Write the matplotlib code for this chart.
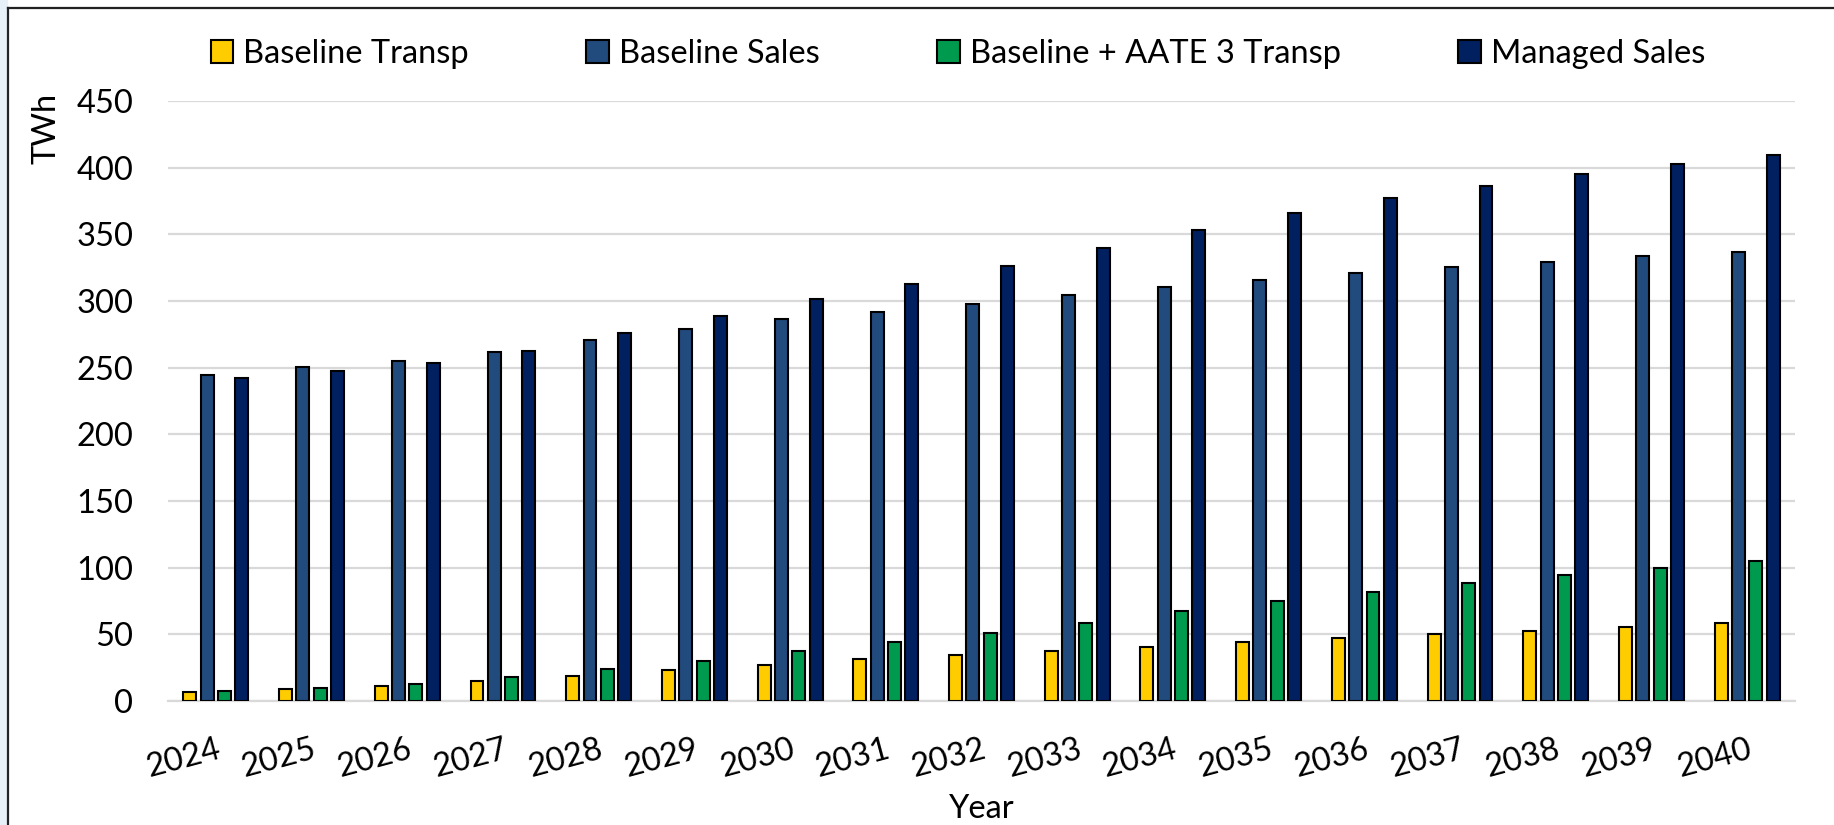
import numpy as np
import matplotlib
matplotlib.use("Agg")
import matplotlib.pyplot as plt
from matplotlib.patches import Rectangle
from matplotlib.lines import Line2D

plt.rcParams['font.family'] = ['Lato', 'DejaVu Sans']

# data (TWh)
years = ['2024', '2025', '2026', '2027', '2028', '2029', '2030', '2031', '2032',
         '2033', '2034', '2035', '2036', '2037', '2038', '2039', '2040']
baseline_transp = [6.8, 8.8, 11.6, 14.9, 18.9, 23.0, 27.3, 31.3, 34.8,
                   37.6, 40.7, 44.2, 47.0, 50.0, 52.8, 55.8, 58.8]
baseline_sales = [244.7, 250.5, 255.2, 261.4, 270.9, 278.9, 286.2, 292.0, 298.0,
                  304.8, 310.3, 315.8, 321.1, 325.4, 329.4, 333.4, 336.9]
aate3_transp = [7.3, 9.8, 13.1, 18.2, 24.0, 30.1, 37.6, 44.2, 51.3,
                58.8, 67.2, 74.7, 81.8, 88.4, 94.4, 99.7, 104.8]
managed_sales = [242.4, 247.2, 253.2, 262.3, 275.9, 288.4, 301.5, 313.1, 325.9,
                 339.4, 353.0, 366.3, 376.9, 386.4, 395.0, 402.5, 409.8]

series = [
    ('Baseline Transp', baseline_transp, '#FFCC00'),
    ('Baseline Sales', baseline_sales, '#214A7D'),
    ('Baseline + AATE 3 Transp', aate3_transp, '#009A4E'),
    ('Managed Sales', managed_sales, '#002060'),
]

fig = plt.figure(figsize=(18.34, 8.25), dpi=100)
ax = fig.add_axes([168/1834, 1 - 701/825, (1795-168)/1834, 600/825])

x = np.arange(len(years))
step = 0.181
width = 0.135
for i, (name, vals, col) in enumerate(series):
    ax.bar(x + (i - 1.5) * step, vals, width, color=col, edgecolor='black',
           linewidth=1.5, label=name, zorder=3)

ax.set_xlim(-0.5, len(years) - 0.5)
ax.set_ylim(0, 450)
ax.set_yticks(range(0, 451, 50))
ax.yaxis.grid(True, color='#D9D9D9', linewidth=1.6, zorder=0)
for s in ['top', 'right', 'left']:
    ax.spines[s].set_visible(False)
ax.spines['bottom'].set_color('#D9D9D9')
ax.spines['bottom'].set_linewidth(1.6)
ax.tick_params(axis='both', length=0, labelsize=23.5)
ax.tick_params(axis='y', pad=25)
ax.set_xticks(x)
ax.set_xticklabels(years, rotation=15, ha='right', va='top', rotation_mode='anchor')
ax.tick_params(axis='x', pad=24)

ax.set_xlabel('Year', fontsize=23.5, labelpad=8)
fig.text(47/1834, 1 - 128/825, 'TWh', rotation=90, fontsize=23.5,
         ha='center', va='center')

ax.legend(ncol=4, frameon=False, fontsize=23.5, loc='center',
          bbox_to_anchor=(958/1834, 1 - 54/825), bbox_transform=fig.transFigure,
          handlelength=0.7, handleheight=0.7, handletextpad=0.3,
          columnspacing=3.6)

# slide frame around the chart
fig.add_artist(Rectangle((0, 0), 7/1834, 1, transform=fig.transFigure,
                         color='#E6F0F8', zorder=0))
fig.add_artist(Line2D([8/1834, 8/1834], [0, 1 - 8/825], transform=fig.transFigure,
                      color='#222222', linewidth=1.6))
fig.add_artist(Line2D([8/1834, 1], [1 - 8/825, 1 - 8/825], transform=fig.transFigure,
                      color='#222222', linewidth=1.6))

fig.savefig('out.png', dpi=100)
